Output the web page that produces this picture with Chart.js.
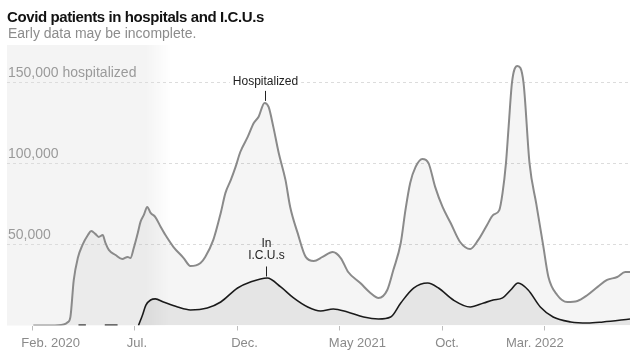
<!DOCTYPE html>
<html>
<head>
<meta charset="utf-8">
<script src="https://cdn.jsdelivr.net/npm/chart.js@4/dist/chart.umd.min.js"></script>
<style>
  html, body { margin: 0; padding: 0; background: #fff; }
  #wrap { position: relative; width: 640px; height: 356px; overflow: hidden; }
  #c { position: absolute; left: 0; top: 0; }
  #title { position: absolute; left: 7px; top: 9px; font: bold 15px/15px 'Liberation Sans', Arial, sans-serif; letter-spacing: -0.4px; color: #121212; white-space: nowrap; }
  #sub { position: absolute; left: 8px; top: 26px; font: 14px/14px 'Liberation Sans', Arial, sans-serif; color: #8c8c8c; white-space: nowrap; }
</style>
</head>
<body>
<div id="wrap">
  <canvas id="c" width="640" height="356"></canvas>
  <div id="title">Covid patients in hospitals and I.C.U.s</div>
  <div id="sub">Early data may be incomplete.</div>
</div>
<script>
// ---------- DATA ----------
const hospDates = [
  '2020-02-02','2020-02-28','2020-03-18','2020-03-24','2020-03-28','2020-04-02','2020-04-08','2020-04-15',
  '2020-04-23','2020-04-28','2020-05-04','2020-05-09','2020-05-15','2020-05-19','2020-05-24','2020-06-03',
  '2020-06-13','2020-06-21','2020-06-25','2020-06-30','2020-07-06','2020-07-10','2020-07-15','2020-07-20',
  '2020-07-25','2020-08-01','2020-08-09','2020-08-16','2020-08-28','2020-09-12','2020-09-22','2020-10-07',
  '2020-10-14','2020-10-26','2020-11-06','2020-11-13','2020-11-21','2020-11-28','2020-12-05','2020-12-16',
  '2020-12-25','2021-01-01','2021-01-10','2021-01-16','2021-01-23','2021-01-31','2021-02-10','2021-02-17',
  '2021-02-28','2021-03-12','2021-03-24','2021-04-06','2021-04-21','2021-05-03','2021-05-14','2021-06-01',
  '2021-06-16','2021-06-28','2021-07-11','2021-07-20','2021-07-31','2021-08-07','2021-08-14','2021-08-22',
  '2021-09-01','2021-09-10','2021-09-20','2021-10-01','2021-10-13','2021-10-27','2021-11-11','2021-11-23',
  '2021-12-06','2021-12-15','2021-12-24','2021-12-29','2022-01-03','2022-01-07','2022-01-12','2022-01-20',
  '2022-01-29','2022-02-07','2022-02-17','2022-02-27','2022-03-07','2022-03-20','2022-04-04','2022-04-19',
  '2022-05-04','2022-05-19','2022-06-02','2022-06-17','2022-06-29','2022-07-06'
];
const hospValues = [
  0, 0, 600, 2000, 5200, 28000, 41600, 49700,
  55800, 58300, 56500, 54600, 55800, 50900, 46600, 43500,
  41000, 42300, 41600, 47800, 57100, 63900, 68200, 73100,
  69400, 66900, 60800, 55800, 48400, 41600, 36700, 38600,
  42300, 52800, 69400, 81800, 89800, 97800, 107000, 116300,
  124900, 128600, 137300, 134800, 122500, 106400, 89800, 73100,
  57100, 42300, 39800, 42300, 45300, 41600, 33000, 26200,
  20100, 17000, 21900, 34200, 50900, 71300, 87900, 97800,
  102700, 100300, 85500, 73100, 63200, 51500, 47200, 52800,
  62000, 68200, 71000, 81800, 100000, 122700, 150000, 160100,
  150000, 100000, 75000, 50000, 29900, 18800, 14500, 15100,
  18800, 23800, 28100, 29900, 33000, 33000
];
const icuDates = [
  '2020-07-07','2020-07-13','2020-07-18','2020-07-25','2020-08-01','2020-08-13','2020-09-03','2020-09-22',
  '2020-10-17','2020-11-06','2020-12-01','2020-12-20','2021-01-14','2021-02-03','2021-02-22','2021-03-15',
  '2021-04-03','2021-04-22','2021-05-13','2021-06-06','2021-06-28','2021-07-16','2021-07-31','2021-08-19',
  '2021-09-09','2021-09-25','2021-10-17','2021-11-11','2021-12-01','2021-12-15','2021-12-29','2022-01-10',
  '2022-01-21','2022-02-05','2022-02-23','2022-03-14','2022-04-09','2022-05-04','2022-05-27','2022-07-06'
];
const icuValues = [
  0, 6500, 12600, 15700, 16400, 14500, 11400, 9600,
  10800, 14500, 23100, 26800, 29300, 23800, 17000, 11400,
  8900, 10200, 8300, 5200, 4000, 5200, 13900, 23100,
  26200, 23100, 15700, 11400, 13900, 15700, 17000, 21900,
  26200, 21900, 11400, 5200, 2200, 1500, 2200, 4000
];
// sparse early I.C.U. reports (drawn as short segments at zero)
const icuEarlyDates  = ['2020-04-09','2020-04-20','2020-05-02','2020-05-18','2020-06-06'];
const icuEarlyValues = [0, 0, null, 0, 0];

const tickDates  = ['2020-02-01','2020-07-01','2020-12-01','2021-05-01','2021-10-01','2022-03-01'];
const tickLabels = ['Feb. 2020','Jul.','Dec.','May 2021','Oct.','Mar. 2022'];
const yTicks      = [50000, 100000, 150000];
const yTickLabels = ['50,000', '100,000', '150,000 hospitalized'];

const axisStart = '2019-12-25';
const axisEnd   = '2022-07-06';
const earlyFadeStart = '2020-07-18';
const earlyFadeEnd   = '2020-08-25';
const hospLabelDate = '2021-01-10';
const icuLabelDate  = '2021-01-14';

// ---------- HELPERS ----------
const BASE = Date.UTC(2020, 1, 1);
function day(s) {
  return (Date.UTC(+s.slice(0, 4), +s.slice(5, 7) - 1, +s.slice(8, 10)) - BASE) / 86400000;
}
function pts(dates, vals) {
  return dates.map((d, i) => ({ x: day(d), y: vals[i] }));
}
const FONT = "'Liberation Sans', Arial, sans-serif";

const overlay = {
  id: 'overlay',
  beforeDraw(chart) {
    const { ctx, chartArea: a, scales: { x } } = chart;
    const xs = x.getPixelForValue(day(earlyFadeStart));
    const xe = x.getPixelForValue(day(earlyFadeEnd));
    const g = ctx.createLinearGradient(a.left, 0, xe, 0);
    g.addColorStop(0, 'rgba(0,0,0,0.045)');
    g.addColorStop((xs - a.left) / (xe - a.left), 'rgba(0,0,0,0.045)');
    g.addColorStop(1, 'rgba(0,0,0,0)');
    ctx.save();
    ctx.fillStyle = g;
    ctx.fillRect(a.left, a.top, xe - a.left, a.bottom - a.top);
    ctx.restore();
  },
  afterDatasetsDraw(chart) {
    const { ctx, chartArea: a, scales: { x, y } } = chart;
    ctx.save();
    // y labels
    ctx.font = '14px ' + FONT;
    ctx.fillStyle = '#9a9a9a';
    ctx.textAlign = 'left';
    ctx.textBaseline = 'alphabetic';
    yTicks.forEach((v, i) => ctx.fillText(yTickLabels[i], a.left + 1, y.getPixelForValue(v) - 5));
    // x labels
    const shift = [18, 2.5, 7, 18, 4.5, -9.5];
    ctx.font = '13px ' + FONT;
    ctx.fillStyle = '#8a8a8a';
    ctx.textAlign = 'center';
    tickDates.forEach((d, i) => ctx.fillText(tickLabels[i], x.getPixelForValue(day(d)) + shift[i], a.bottom + 21));
    // annotation: Hospitalized
    ctx.strokeStyle = '#222';
    ctx.lineWidth = 1;
    ctx.fillStyle = '#222';
    ctx.font = '12px ' + FONT;
    ctx.textBaseline = 'middle';
    let hx = Math.round(x.getPixelForValue(day(hospLabelDate))) + 0.5;
    let hy = y.getPixelForValue(hospValues[hospDates.indexOf(hospLabelDate)]);
    ctx.beginPath(); ctx.moveTo(hx, hy - 2); ctx.lineTo(hx, hy - 12); ctx.stroke();
    const tw = ctx.measureText('Hospitalized').width;
    ctx.fillStyle = '#fff';
    ctx.fillRect(hx - tw / 2 - 3, hy - 28, tw + 6, 14);
    ctx.fillStyle = '#222';
    ctx.fillText('Hospitalized', hx, hy - 21);
    // annotation: In I.C.U.s
    let ix = Math.round(x.getPixelForValue(day(icuLabelDate))) - 0.5;
    let iy = y.getPixelForValue(icuValues[icuDates.indexOf(icuLabelDate)]);
    ctx.beginPath(); ctx.moveTo(ix, iy - 1.5); ctx.lineTo(ix, iy - 11.5); ctx.stroke();
    ctx.fillText('I.C.U.s', ix, iy - 22);
    ctx.fillText('In', ix, iy - 34);
    ctx.restore();
  }
};

new Chart(document.getElementById('c'), {
  type: 'line',
  data: {
    datasets: [
      {
        label: 'Hospitalized',
        data: pts(hospDates, hospValues),
        borderColor: '#8a8a8a',
        borderWidth: 2,
        backgroundColor: 'rgba(0,0,0,0.04)',
        fill: 'origin',
        pointRadius: 0,
        cubicInterpolationMode: 'monotone'
      },
      {
        label: 'In I.C.U.s',
        data: pts(icuDates, icuValues),
        borderColor: '#1c1c1c',
        borderWidth: 1.6,
        backgroundColor: 'rgba(0,0,0,0.065)',
        fill: 'origin',
        pointRadius: 0,
        cubicInterpolationMode: 'monotone'
      },
      {
        label: 'I.C.U. early',
        data: pts(icuEarlyDates, icuEarlyValues),
        borderColor: '#444',
        borderWidth: 2.5,
        fill: false,
        pointRadius: 0,
        spanGaps: false
      }
    ]
  },
  options: {
    responsive: false,
    animation: false,
    events: [],
    layout: { padding: { left: 7, right: 10, top: 45, bottom: 0 } },
    plugins: { legend: { display: false }, tooltip: { enabled: false }, title: { display: false } },
    scales: {
      x: {
        type: 'linear',
        min: day(axisStart),
        max: day(axisEnd),
        afterBuildTicks: s => { s.ticks = tickDates.map(d => ({ value: day(d) })); },
        ticks: { display: false },
        grid: { drawOnChartArea: false, drawTicks: true, tickLength: 5, color: '#bdbdbd', lineWidth: 1 },
        border: { display: false },
        afterFit: s => { s.height = 30.5; }
      },
      y: {
        min: 0,
        max: 173000,
        afterBuildTicks: s => { s.ticks = yTicks.map(v => ({ value: v })); },
        ticks: { display: false },
        grid: { color: '#dcdcdc', drawTicks: false, tickLength: 0, lineWidth: 1 },
        border: { display: false, dash: [3, 3] },
        afterFit: s => { s.width = 0; }
      }
    }
  },
  plugins: [overlay]
});
</script>
</body>
</html>
